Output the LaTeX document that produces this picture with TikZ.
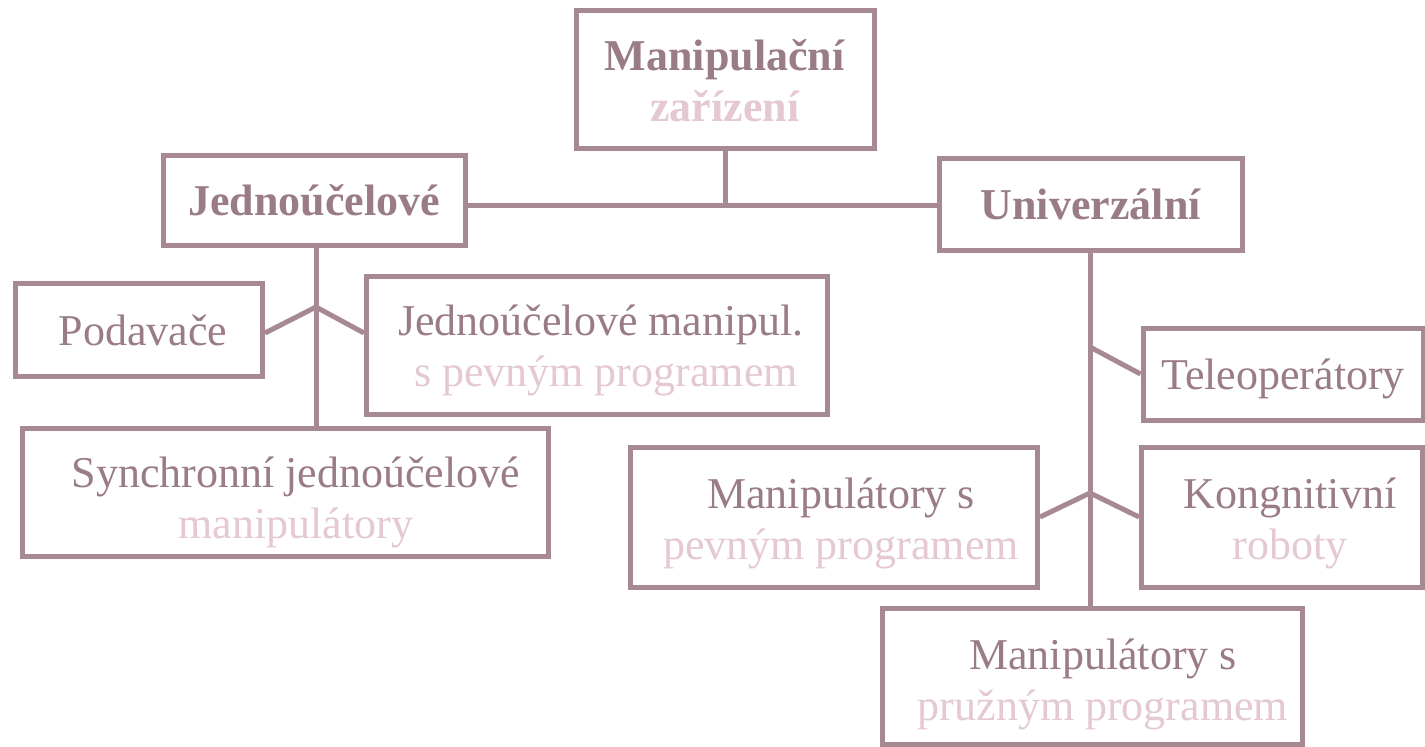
\documentclass[tikz,border=0pt]{standalone}
\usepackage{fontspec}
\setmainfont{Liberation Serif}
\definecolor{linec}{HTML}{A78993}
\definecolor{darkt}{HTML}{9A7C87}
\definecolor{lightt}{HTML}{E5C9D1}
\begin{document}
\begin{tikzpicture}[x=1pt,y=-1pt,
  box/.style={draw=linec, line width=5pt, fill=white, inner sep=0pt},
  lbl/.style={inner sep=0pt, align=center, text=darkt,
    font=\fontsize{44}{51}\selectfont},
  conn/.style={draw=linec, line width=5pt}]
\useasboundingbox (0,0) rectangle (1425,747);
% boxes (centres and sizes in px)
\node[box, minimum width=298pt, minimum height=138pt] (top) at (725,79) {};
\node[box, minimum width=302pt, minimum height=90pt] (jed) at (314,200) {};
\node[box, minimum width=303pt, minimum height=92pt] (uni) at (1091,204) {};
\node[box, minimum width=247pt, minimum height=93pt] (pod) at (139,330) {};
\node[box, minimum width=461pt, minimum height=138pt] (jm) at (597,345) {};
\node[box, minimum width=526pt, minimum height=128pt] (syn) at (285,492) {};
\node[box, minimum width=280pt, minimum height=92pt] (tele) at (1283,374) {};
\node[box, minimum width=407pt, minimum height=140pt] (mp) at (834,517) {};
\node[box, minimum width=281pt, minimum height=140pt] (kr) at (1282,517) {};
\node[box, minimum width=420pt, minimum height=136pt] (mpr) at (1092,676) {};
% texts
\node[lbl] (ttop) at ([yshift=-2pt]top.center)
  {\textbf{Manipulační}\\\textcolor{lightt}{\textbf{zařízení}}};
\node[lbl] (tjed) at (jed.center) {\textbf{Jednoúčelové}};
\node[lbl] (tuni) at (uni.center) {\textbf{Univerzální}};
\node[lbl] (tpod) at ([xshift=4pt]pod.center) {Podavače};
\node[lbl] (tjm) at ([xshift=4pt,yshift=-5pt]jm.center)
  {Jednoúčelové manipul.\\\hspace*{10pt}\textcolor{lightt}{s pevným programem}};
\node[lbl] (tsyn) at ([xshift=11pt,yshift=-10pt]syn.center)
  {Synchronní jednoúčelové\\\textcolor{lightt}{manipulátory}};
\node[lbl] (ttele) at ([yshift=-5pt]tele.center) {Teleoperátory};
\node[lbl] (tmp) at ([xshift=7pt,yshift=-6pt]mp.center)
  {Manipulátory s\\\textcolor{lightt}{pevným programem}};
\node[lbl] (tkr) at ([xshift=8pt,yshift=-6pt]kr.center)
  {Kongnitivní\\\textcolor{lightt}{roboty}};
\node[lbl] (tmpr) at ([xshift=11pt,yshift=-8pt]mpr.center)
  {Manipulátory s\\\textcolor{lightt}{pružným programem}};
% junction coordinates
\coordinate (hj) at (724,205);
\coordinate (b1) at (316,307);
\coordinate (b2) at (1090,347);
\coordinate (b3) at (1090,493);
% connectors
\draw[conn] (top.south) -- (top.south |- hj);
\draw[conn] (jed.east |- hj) -- (uni.west |- hj);
\draw[conn] (jed.south -| b1) -- (b1 |- syn.north);
\draw[conn] ([yshift=-3pt]pod.east) -- (b1) -- ([yshift=12pt]jm.west);
\draw[conn] (uni.south -| b2) -- (b2 |- mpr.north);
\draw[conn] (b2) -- (tele.west);
\draw[conn] (mp.east) -- (b3) -- (kr.west);
\end{tikzpicture}
\end{document}
